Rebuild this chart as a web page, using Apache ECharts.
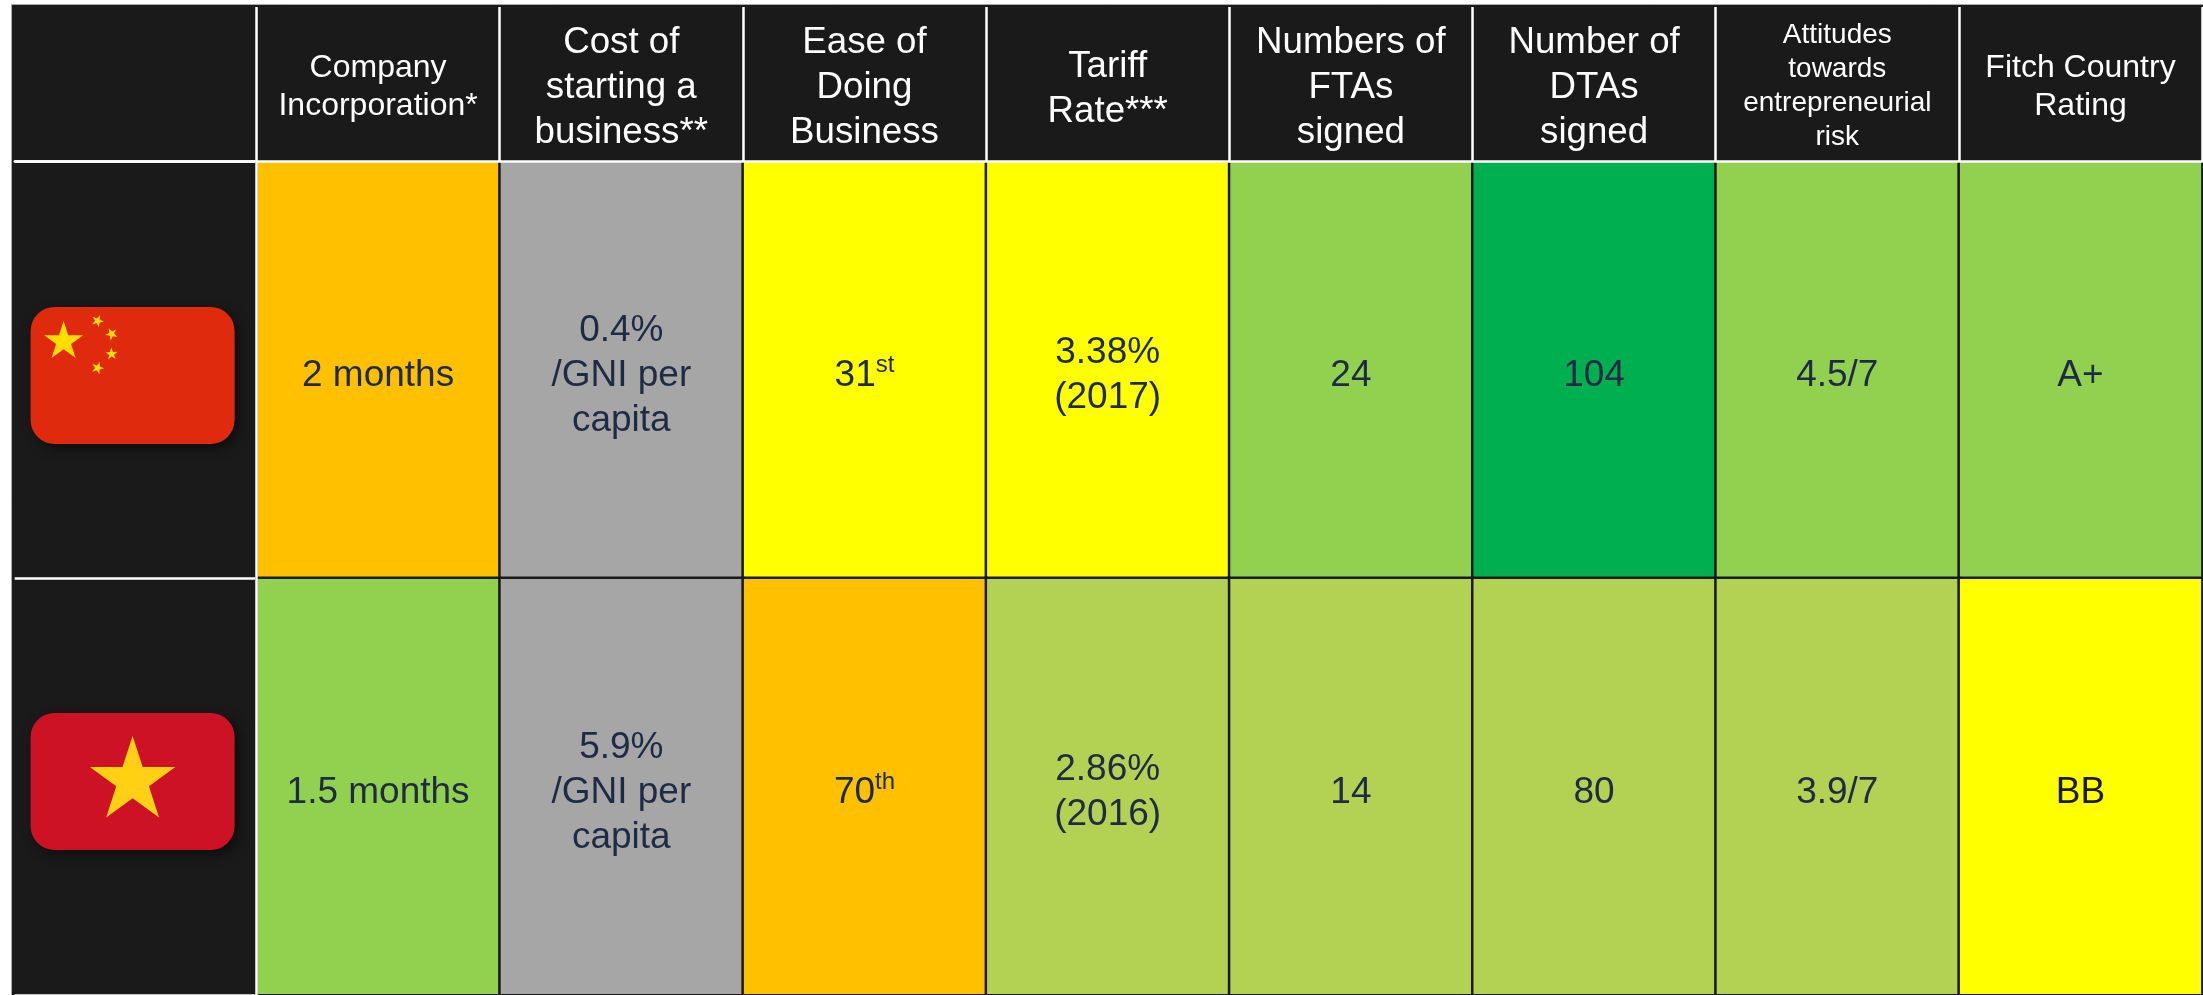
<!DOCTYPE html>
<html>
<head>
<meta charset="utf-8">
<style>
  html, body { margin: 0; padding: 0; background: #fff; overflow: hidden; }
  #main { width: 2203px; height: 995px; }
</style>
</head>
<body>
<div id="main"></div>
<script src="https://cdn.jsdelivr.net/npm/echarts@6/dist/echarts.min.js"></script>
<script>
const countries = ['China', 'Vietnam']
const headers = [
  'Company\nIncorporation*',
  'Cost of\nstarting a\nbusiness**',
  'Ease of\nDoing\nBusiness',
  'Tariff\nRate***',
  'Numbers of\nFTAs\nsigned',
  'Number of\nDTAs\nsigned',
  'Attitudes\ntowards\nentrepreneurial\nrisk',
  'Fitch Country\nRating'
]
const chinaValues = ['2 months', '0.4%\n/GNI per\ncapita', '31{sup|st}', '3.38%\n(2017)', '24', '104', '4.5/7', 'A+']
const vietnamValues = ['1.5 months', '5.9%\n/GNI per\ncapita', '70{sup|th}', '2.86%\n(2016)', '14', '80', '3.9/7', 'BB']
// colour bands of the scorecard
const chinaRatings = ['orange', 'grey', 'yellow', 'yellow', 'lightGreen', 'green', 'lightGreen', 'lightGreen']
const vietnamRatings = ['lightGreen', 'grey', 'orange', 'olive', 'olive', 'olive', 'olive', 'yellow']

const ratingColors = {
  grey: '#A6A6A6',
  orange: '#FFC000',
  yellow: '#FFFF00',
  olive: '#B3D153',
  lightGreen: '#92D050',
  green: '#00B050'
}
const dark = '#1A1A1A'
const navy = '#1F2B45'
const fontFamily = '"Liberation Sans", Arial, sans-serif'

const headerFontSize = [32, 36.7, 36.7, 36.7, 36.7, 36.7, 28, 32]
const headerLineHeight = [38, 45, 45, 45, 45, 45, 34, 38]
const headerShift = [3, 4, 4, 5, 4, 4, 2, 3]

function starPoints (cx, cy, r, rot) {
  const pts = []
  for (let i = 0; i < 10; i++) {
    const rad = i % 2 === 0 ? r : r * 0.382
    const a = rot - Math.PI / 2 + i * Math.PI / 5
    pts.push([cx + rad * Math.cos(a), cy + rad * Math.sin(a)])
  }
  return pts
}

function star (cx, cy, r, rot, fill) {
  return { type: 'polygon', shape: { points: starPoints(cx, cy, r, rot) }, style: { fill } }
}

function renderFlag (params, api) {
  const isChina = api.value(1) === 0
  const c = api.coord([0, api.value(1)])
  const cx = c[0] - 3
  const cy = c[1] + (isChina ? 6 : -5)
  const children = [{
    type: 'rect',
    shape: { x: cx - 102, y: cy - 68.5, width: 204, height: 137, r: 24 },
    style: {
      fill: isChina ? '#DF2A0E' : '#CD1226',
      shadowBlur: 12,
      shadowOffsetX: 4,
      shadowOffsetY: 4,
      shadowColor: 'rgba(0,0,0,0.55)'
    }
  }]
  if (isChina) {
    children.push(star(cx - 69, cy - 34, 20.5, 0, '#FFDD00'))
    const small = [[-35, -54.5], [-21, -41.5], [-21, -21.5], [-35, -7.5]]
    small.forEach(p => {
      const rot = Math.atan2(-34 - p[1], -69 - p[0]) + Math.PI / 2
      children.push(star(cx + p[0], cy + p[1], 6.5, rot, '#FFDD00'))
    })
  } else {
    children.push(star(cx, cy - 0.5, 45, 0, '#FFD013'))
  }
  return { type: 'group', children }
}

function bodyCell (text, rating, col, row) {
  return {
    name: text,
    value: [col, row, 1],
    itemStyle: { color: ratingColors[rating] },
    label: text === 'BB' ? { color: dark } : undefined
  }
}

const bodyData = []
chinaValues.forEach((v, i) => bodyData.push(bodyCell(v, chinaRatings[i], i, 0)))
vietnamValues.forEach((v, i) => bodyData.push(bodyCell(v, vietnamRatings[i], i, 1)))

const headerData = headers.map((h, i) => ({
  name: h,
  value: [i, 0, 1],
  label: { fontSize: headerFontSize[i], lineHeight: headerLineHeight[i], offset: [0, headerShift[i]] }
}))

const chart = echarts.init(document.getElementById('main'), null, { renderer: 'canvas' })
chart.setOption({
  animation: false,
  backgroundColor: '#fff',
  textStyle: { fontFamily },
  graphic: [{
    type: 'rect',
    z: -10,
    shape: { x: 11.5, y: 4.5, width: 2195, height: 995 },
    style: { fill: dark, stroke: '#AAAAAA', lineWidth: 1 }
  }],
  grid: [
    { left: 256.5, top: 7, width: 1945.6, height: 154 },
    { left: 14.7, top: 161, width: 241.8, height: 838 },
    { left: 256.5, top: 161, width: 1945.6, height: 838 }
  ],
  xAxis: [
    {
      gridIndex: 0,
      type: 'category',
      data: headers,
      z: 6,
      axisLine: { lineStyle: { color: '#fff', width: 2.5 } },
      axisTick: { show: false },
      axisLabel: { show: false },
      splitLine: { show: true, interval: 0, lineStyle: { color: '#fff', width: 2.5 } }
    },
    {
      gridIndex: 1,
      type: 'category',
      position: 'top',
      data: ['flag'],
      axisLine: { lineStyle: { color: '#fff', width: 2.5 } },
      axisTick: { show: false },
      axisLabel: { show: false }
    },
    {
      gridIndex: 2,
      type: 'category',
      data: headers,
      axisLine: { show: false },
      axisTick: { show: false },
      axisLabel: { show: false }
    }
  ],
  yAxis: [
    {
      gridIndex: 0,
      type: 'category',
      data: ['header'],
      axisLine: { show: false },
      axisTick: { show: false },
      axisLabel: { show: false }
    },
    {
      gridIndex: 1,
      type: 'category',
      inverse: true,
      data: countries,
      axisLine: { show: false },
      axisTick: { show: false },
      axisLabel: { show: false },
      splitLine: { show: true, interval: 0, lineStyle: { color: '#fff', width: 2.5 } }
    },
    {
      gridIndex: 2,
      type: 'category',
      inverse: true,
      data: countries,
      z: 5,
      axisLine: { onZero: false, lineStyle: { color: '#fff', width: 2.5 } },
      axisTick: { show: false },
      axisLabel: { show: false }
    }
  ],
  series: [
    {
      name: 'header',
      type: 'heatmap',
      xAxisIndex: 0,
      yAxisIndex: 0,
      data: headerData,
      silent: true,
      itemStyle: { color: dark },
      label: {
        show: true,
        color: '#fff',
        fontFamily,
        formatter: p => p.name
      }
    },
    {
      name: 'flags',
      type: 'custom',
      xAxisIndex: 1,
      yAxisIndex: 1,
      silent: true,
      clip: false,
      renderItem: renderFlag,
      data: countries.map((c, i) => [0, i])
    },
    {
      name: 'scorecard',
      type: 'heatmap',
      xAxisIndex: 2,
      yAxisIndex: 2,
      data: bodyData,
      silent: true,
      itemStyle: { borderColor: dark, borderWidth: 2.5 },
      label: {
        show: true,
        color: navy,
        fontFamily,
        fontSize: 37,
        lineHeight: 45,
        offset: [0, 6],
        formatter: p => p.name,
        rich: {
          sup: { fontFamily, fontSize: 24, color: navy, lineHeight: 45, verticalAlign: 'top', padding: [0, 0, 2, 0] }
        }
      }
    }
  ]
})
</script>
</body>
</html>
